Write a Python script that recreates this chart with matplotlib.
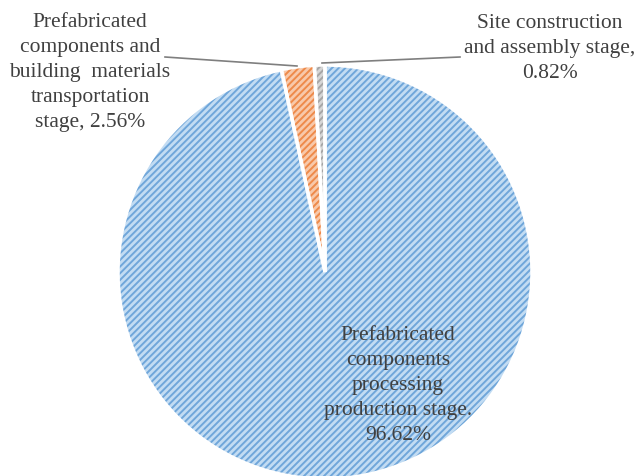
import matplotlib.pyplot as plt

# --- Share of emissions by stage ---
stages = ["Prefabricated components processing production stage",
          "Prefabricated components and building materials transportation stage",
          "Site construction and assembly stage"]
shares = [96.62, 2.56, 0.82]
labels = ["Prefabricated\ncomponents\nprocessing\nproduction stage.\n96.62%",
          "Prefabricated\ncomponents and\nbuilding  materials\ntransportation\nstage, 2.56%",
          "Site construction\nand assembly stage,\n0.82%"]
fills = ["#c2dcf3", "#f8c9aa", "#d6d6d6"]
hatches = ["#6fa6da", "#ee8a4a", "#a6a6a6"]

plt.rcParams["font.family"] = ["Liberation Serif", "DejaVu Serif"]
plt.rcParams["hatch.linewidth"] = 1.4

W, H = 637, 477
fig = plt.figure(figsize=(W / 100, H / 100), dpi=100)
ax = fig.add_axes([0, 0, 1, 1])

center = (325, H - 273)
radius = 207

# filled wedges with hatch drawn in the darker tone
wedges, _ = ax.pie(shares, startangle=90, counterclock=False,
                   center=center, radius=radius, frame=True)
for w, fc, hc in zip(wedges, fills, hatches):
    w.set_facecolor(fc)
    w.set_edgecolor(hc)
    w.set_linewidth(0)
    w.set_hatch("/////")

# white separators between slices
outline, _ = ax.pie(shares, startangle=90, counterclock=False,
                    center=center, radius=radius, frame=True)
for w in outline:
    w.set_fill(False)
    w.set_edgecolor("white")
    w.set_linewidth(2.5)

ax.set_xlim(0, W)
ax.set_ylim(0, H)
ax.set_aspect("equal")
ax.axis("off")

txt = dict(fontsize=15.5, color="#404040", ha="center", va="top",
           linespacing=1.43)
ax.text(398, H - 326, labels[0], **txt)
ax.text(90, H - 13, labels[1], **txt)
ax.text(550, H - 14, labels[2], **txt)

# leader lines for the small slices
ax.plot([165, 297], [H - 58, H - 67], color="#7f7f7f", lw=1.2)
ax.plot([322, 460], [H - 64, H - 58], color="#7f7f7f", lw=1.2)

fig.savefig("out.png", dpi=100)
